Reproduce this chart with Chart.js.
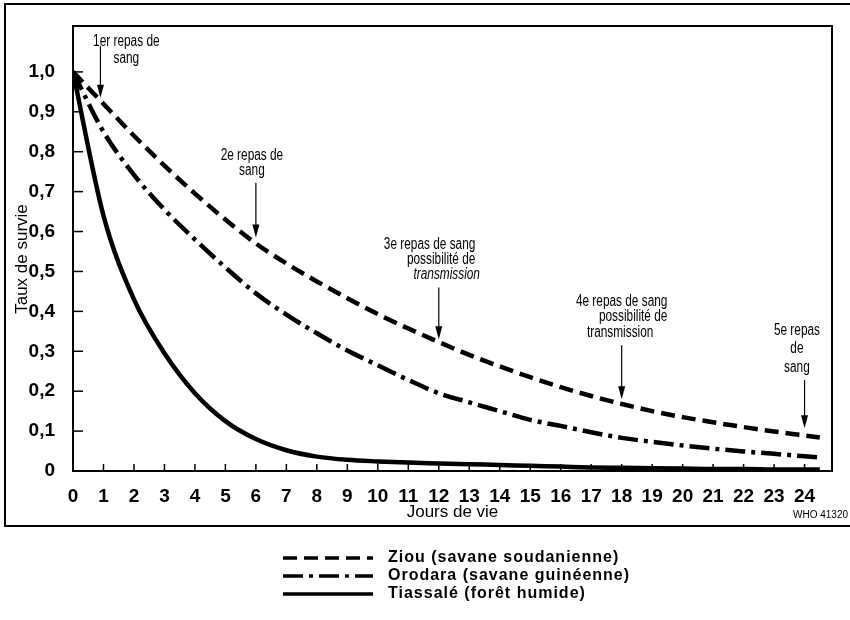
<!DOCTYPE html>
<html>
<head>
<meta charset="utf-8">
<script src="https://cdn.jsdelivr.net/npm/chart.js@4.4.1/dist/chart.umd.min.js"></script>
<style>
  html, body { margin: 0; padding: 0; background: #fff; }
  #wrap { width: 850px; height: 620px; }
</style>
</head>
<body>
<div id="wrap"><canvas id="chart"></canvas></div>
<script>
// Taux de survie selon les jours de vie
const days = [0, 1, 2, 3, 4, 5, 6, 7, 8, 9, 10, 11, 12, 13, 14, 15, 16, 17, 18, 19, 20, 21, 22, 23, 24, 24.5];
const ziou = [1.0, 0.92, 0.84, 0.765, 0.695, 0.63, 0.57, 0.52, 0.475, 0.433, 0.393, 0.357, 0.323, 0.291, 0.262, 0.235, 0.21, 0.188, 0.168, 0.15, 0.135, 0.122, 0.11, 0.099, 0.089, 0.084];
const orodara = [1.0, 0.85, 0.742, 0.655, 0.58, 0.51, 0.445, 0.392, 0.345, 0.302, 0.265, 0.228, 0.195, 0.172, 0.15, 0.128, 0.113, 0.097, 0.083, 0.073, 0.064, 0.056, 0.049, 0.043, 0.037, 0.034];
const tiassale = [1.0, 0.64, 0.43, 0.295, 0.195, 0.125, 0.08, 0.052, 0.036, 0.028, 0.024, 0.021, 0.019, 0.017, 0.015, 0.013, 0.011, 0.009, 0.008, 0.007, 0.006, 0.005, 0.005, 0.004, 0.004, 0.004];

const seriesNames = ['Ziou (savane soudanienne)', 'Orodara (savane guinéenne)', 'Tiassalé (forêt humide)'];
const xTickLabels = ['0', '1', '2', '3', '4', '5', '6', '7', '8', '9', '10', '11', '12', '13', '14', '15', '16', '17', '18', '19', '20', '21', '22', '23', '24'];
const yTickLabels = ['0', '0,1', '0,2', '0,3', '0,4', '0,5', '0,6', '0,7', '0,8', '0,9', '1,0'];

const FONT = "'Liberation Sans', Arial, sans-serif";

// repas de sang: texte + fleche (en unites du graphique)
const notes = [
  { lines: [['1er repas de', 1.75, 1.075], ['sang', 1.75, 1.033]], arrow: [0.9, 1.065, 0.935] },
  { lines: [['2e repas de', 5.87, 0.79], ['sang', 5.87, 0.752]], arrow: [6, 0.722, 0.585] },
  { lines: [['3e repas de sang', 13.2, 0.567, 'right'], ['possibilité de', 13.2, 0.53, 'right'], ['transmission', 13.35, 0.492, 'right', true]], arrow: [12, 0.46, 0.33] },
  { lines: [['4e repas de sang', 19.5, 0.424, 'right'], ['possibilité de', 19.5, 0.386, 'right'], ['transmission', 17.95, 0.348]], arrow: [18, 0.315, 0.18] },
  { lines: [['5e repas', 23.75, 0.352], ['de', 23.75, 0.307], ['sang', 23.75, 0.26]], arrow: [24, 0.228, 0.107] }
];

function toPoints(values) {
  return days.map((d, i) => ({ x: d, y: values[i] }));
}

function drawArrow(ctx, x, y1, y2) {
  ctx.beginPath();
  ctx.moveTo(x, y1);
  ctx.lineTo(x, y2 - 10);
  ctx.stroke();
  ctx.beginPath();
  ctx.moveTo(x - 3.5, y2 - 13);
  ctx.lineTo(x + 3.5, y2 - 13);
  ctx.lineTo(x, y2);
  ctx.closePath();
  ctx.fill();
}

// texte etroit (police condensee simulee)
function narrowText(ctx, text, x, y, align) {
  ctx.save();
  ctx.translate(x, y);
  ctx.scale(0.74, 1);
  ctx.textAlign = align;
  ctx.fillText(text, 0, 0);
  ctx.restore();
}

const decorPlugin = {
  id: 'decor',
  afterDraw(chart) {
    const ctx = chart.ctx;
    const area = chart.chartArea;
    const xs = chart.scales.x;
    const ys = chart.scales.y;
    ctx.save();
    ctx.strokeStyle = '#000';
    ctx.fillStyle = '#000';

    // cadre du graphique
    ctx.lineWidth = 2;
    ctx.strokeRect(area.left, area.top, area.right - area.left, area.bottom - area.top);

    // graduations vers l'interieur
    ctx.lineWidth = 1.5;
    xTickLabels.forEach((t, i) => {
      if (i === 0) return;
      const px = xs.getPixelForValue(i);
      ctx.beginPath();
      ctx.moveTo(px, area.bottom);
      ctx.lineTo(px, area.bottom - 7);
      ctx.stroke();
    });
    yTickLabels.forEach((t, i) => {
      const py = ys.getPixelForValue(i / 10);
      ctx.beginPath();
      ctx.moveTo(area.left, py);
      ctx.lineTo(area.left + 10, py);
      ctx.stroke();
    });

    // cadre exterieur
    ctx.lineWidth = 2;
    ctx.beginPath();
    ctx.moveTo(850, 4);
    ctx.lineTo(5, 4);
    ctx.lineTo(5, 526);
    ctx.lineTo(850, 526);
    ctx.stroke();

    ctx.textBaseline = 'middle';
    ctx.font = '10px ' + FONT;
    ctx.textAlign = 'left';
    ctx.fillText('WHO 41320', 793, 515);

    // titre vertical
    ctx.save();
    ctx.translate(22, 259);
    ctx.rotate(-Math.PI / 2);
    ctx.font = '17px ' + FONT;
    ctx.textAlign = 'center';
    ctx.fillText('Taux de survie', 0, 0);
    ctx.restore();

    // annotations
    ctx.lineWidth = 1.2;
    notes.forEach(n => {
      n.lines.forEach(l => {
        ctx.font = (l[4] ? 'italic ' : '') + '16px ' + FONT;
        narrowText(ctx, l[0], xs.getPixelForValue(l[1]), ys.getPixelForValue(l[2]), l[3] || 'center');
      });
      const a = n.arrow;
      drawArrow(ctx, xs.getPixelForValue(a[0]), ys.getPixelForValue(a[1]), ys.getPixelForValue(a[2]));
    });

    // legende
    ctx.font = 'bold 16px ' + FONT;
    ctx.letterSpacing = '1px';
    ctx.textAlign = 'left';
    chart.data.datasets.forEach((ds, i) => {
      const y = 558 + i * 18;
      ctx.lineWidth = 3.5;
      ctx.setLineDash(ds.borderDash || []);
      ctx.beginPath();
      ctx.moveTo(283, y);
      ctx.lineTo(373, y);
      ctx.stroke();
      ctx.setLineDash([]);
      ctx.fillText(ds.label, 388, y);
    });
    ctx.restore();
  }
};

Chart.defaults.font.family = FONT;
Chart.defaults.color = '#000';

const ctx = document.getElementById('chart').getContext('2d');
const chart = new Chart(ctx, {
  type: 'line',
  data: {
    datasets: [
      { label: seriesNames[0], data: toPoints(ziou), borderDash: [14, 7] },
      { label: seriesNames[1], data: toPoints(orodara), borderDash: [20, 6, 4, 6] },
      { label: seriesNames[2], data: toPoints(tiassale) }
    ]
  },
  options: {
    responsive: true,
    maintainAspectRatio: false,
    animation: false,
    layout: { padding: { left: 0, top: 26, right: 18, bottom: 0 } },
    elements: {
      line: { borderColor: '#000', borderWidth: 4.5, cubicInterpolationMode: 'monotone', fill: false, borderCapStyle: 'butt' },
      point: { radius: 0 }
    },
    plugins: {
      legend: { display: false },
      tooltip: { enabled: false }
    },
    scales: {
      x: {
        type: 'linear',
        min: 0,
        max: 24.9,
        grid: { display: false },
        border: { display: false },
        ticks: {
          stepSize: 1,
          autoSkip: false,
          maxRotation: 0,
          includeBounds: false,
          padding: 6,
          font: { size: 19, weight: 'bold' },
          callback: v => xTickLabels[v] ?? ''
        },
        title: { display: true, text: 'Jours de vie', font: { size: 17 }, padding: { top: 0, bottom: 97 } },
        afterFit: s => { s.height = 149; }
      },
      y: {
        min: 0,
        max: 1.115,
        grid: { display: false },
        border: { display: false },
        ticks: {
          stepSize: 0.1,
          includeBounds: false,
          padding: 10,
          font: { size: 19, weight: 'bold' },
          callback: v => yTickLabels[Math.round(v * 10)] ?? ''
        },
        afterFit: s => { s.width = 73; }
      }
    }
  },
  plugins: [decorPlugin]
});
</script>
</body>
</html>
